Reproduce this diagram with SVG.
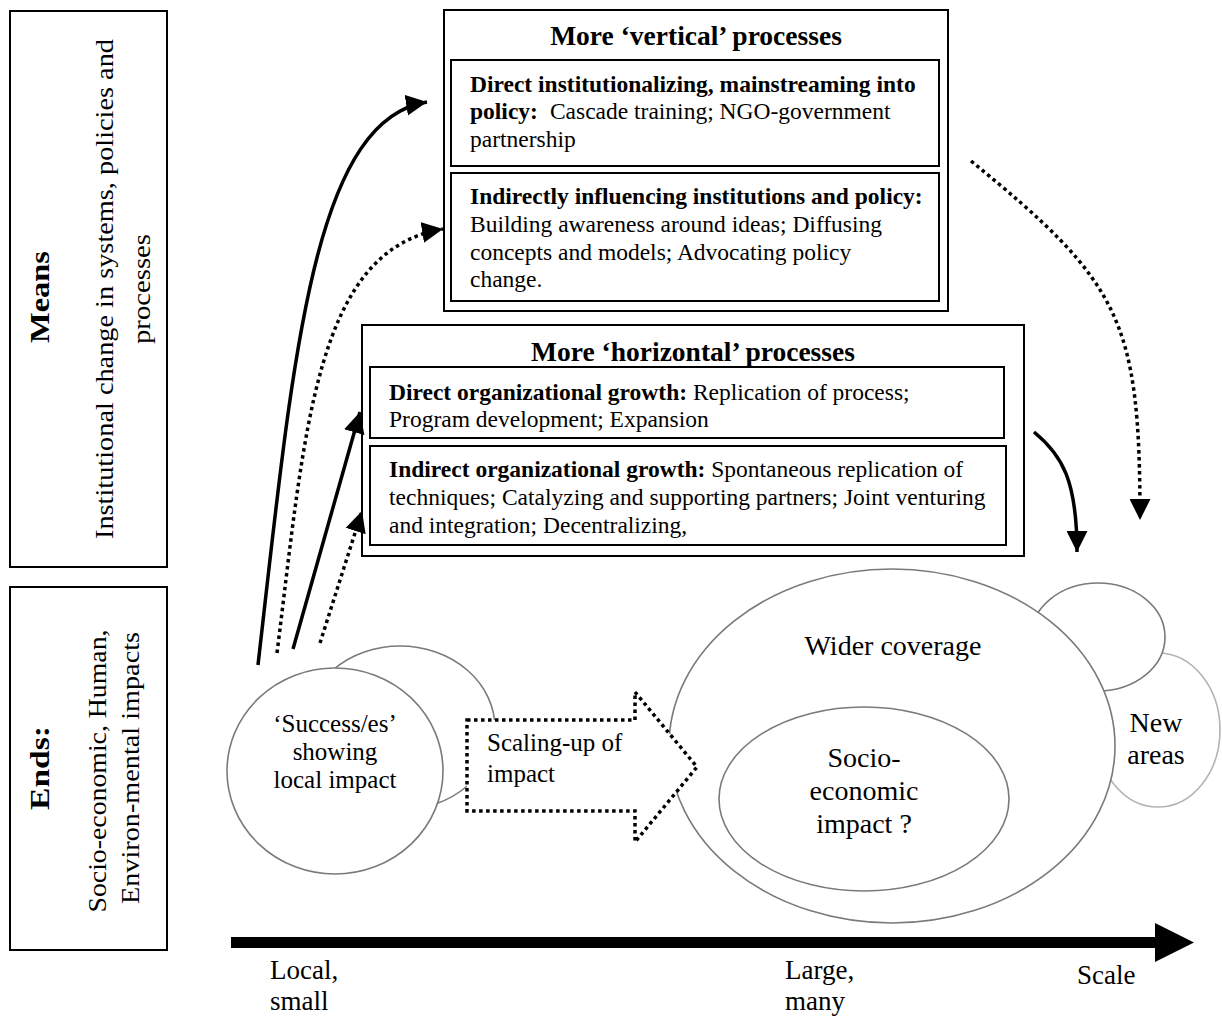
<svg xmlns="http://www.w3.org/2000/svg" width="1222" height="1017" viewBox="0 0 1222 1017">
  <style>
    text { font-family: "Liberation Serif", "Times New Roman", serif; fill: #000; }
    .frame { fill: #fff; stroke: #000; stroke-width: 2; }
    .inner { fill: none; stroke: #000; stroke-width: 2; }
    .head { font-size: 27.5px; font-weight: bold; text-anchor: middle; }
    .body { font-size: 23.5px; }
    .b { font-weight: bold; }
    .side { font-size: 26px; text-anchor: middle; }
    .lbl { font-size: 28px; text-anchor: middle; }
    .small { font-size: 25px; }
    .mid { text-anchor: middle; }
    .axis { font-size: 27px; }
    .bubble { fill: #fff; stroke: #7a7a7a; stroke-width: 1.6; }
    .light { stroke: #b4b4b4; }
    .solid { fill: none; stroke: #000; stroke-width: 3.5; }
    .dotted { fill: none; stroke: #000; stroke-width: 3.5; stroke-dasharray: 3.5 3.5; }
  </style>
  <defs>
    <marker id="head" markerUnits="userSpaceOnUse" viewBox="0 0 21 21" markerWidth="21" markerHeight="21" refX="21" refY="10.5" orient="auto">
      <path d="M0,0 L21,10.5 L0,21 z" fill="#000"/>
    </marker>
  </defs>

  <!-- Side panel: means -->
  <g id="means">
    <rect class="frame" x="10" y="11" width="157" height="556"/>
    <text class="side b" style="font-size:28px" transform="translate(49,297) rotate(-90)" textLength="92" lengthAdjust="spacingAndGlyphs">Means</text>
    <text class="side" transform="translate(113,289) rotate(-90)" textLength="500" lengthAdjust="spacingAndGlyphs">Institutional change in systems, policies and</text>
    <text class="side" transform="translate(150,289) rotate(-90)" textLength="110" lengthAdjust="spacingAndGlyphs">processes</text>
  </g>

  <!-- Side panel: ends -->
  <g id="ends">
    <rect class="frame" x="10" y="587" width="157" height="363"/>
    <text class="side b" style="font-size:28px" transform="translate(49,768) rotate(-90)" textLength="84" lengthAdjust="spacingAndGlyphs">Ends:</text>
    <text class="side" transform="translate(106,771) rotate(-90)" textLength="283" lengthAdjust="spacingAndGlyphs">Socio-economic, Human,</text>
    <text class="side" transform="translate(139,768) rotate(-90)" textLength="272" lengthAdjust="spacingAndGlyphs">Environ-mental impacts</text>
  </g>

  <!-- Vertical processes -->
  <g id="vertical">
    <rect class="frame" x="444" y="10" width="504" height="301"/>
    <text class="head" x="696" y="45">More ‘vertical’ processes</text>
    <rect class="inner" x="451" y="60" width="488" height="106"/>
    <text class="body" x="470" y="92"><tspan class="b">Direct institutionalizing, mainstreaming into</tspan></text>
    <text class="body" x="470" y="119"><tspan class="b">policy:</tspan><tspan dx="12">Cascade training; NGO-government</tspan></text>
    <text class="body" x="470" y="147">partnership</text>
    <rect class="inner" x="451" y="173" width="488" height="128"/>
    <text class="body" x="470" y="204"><tspan class="b">Indirectly influencing institutions and policy:</tspan></text>
    <text class="body" x="470" y="232">Building awareness around ideas; Diffusing</text>
    <text class="body" x="470" y="260">concepts and models; Advocating policy</text>
    <text class="body" x="470" y="287">change.</text>
  </g>

  <!-- Horizontal processes -->
  <g id="horizontal">
    <rect class="frame" x="362" y="325" width="662" height="231"/>
    <text class="head" x="693" y="361">More ‘horizontal’ processes</text>
    <rect class="inner" x="370" y="367" width="634" height="71"/>
    <text class="body" x="389" y="400"><tspan class="b">Direct organizational growth:</tspan> Replication of process;</text>
    <text class="body" x="389" y="427">Program development; Expansion</text>
    <rect class="inner" x="370" y="446" width="636" height="99"/>
    <text class="body" x="389" y="477"><tspan class="b">Indirect organizational growth:</tspan> Spontaneous replication of</text>
    <text class="body" x="389" y="505">techniques; Catalyzing and supporting partners; Joint venturing</text>
    <text class="body" x="389" y="533">and integration; Decentralizing,</text>
  </g>

  <!-- Local successes -->
  <g id="local">
    <ellipse class="bubble" cx="400" cy="728" rx="95" ry="82"/>
    <ellipse class="bubble" cx="335" cy="771" rx="108" ry="103"/>
    <text class="small mid" x="335" y="732">‘Success/es’</text>
    <text class="small mid" x="335" y="760">showing</text>
    <text class="small mid" x="335" y="788">local impact</text>
  </g>

  <!-- Wider coverage -->
  <g id="wider">
    <ellipse class="bubble light" cx="1158" cy="730" rx="62" ry="77"/>
    <ellipse class="bubble" cx="1098" cy="637" rx="67" ry="54"/>
    <ellipse class="bubble" cx="892" cy="746" rx="223" ry="177"/>
    <text class="lbl" x="893" y="655">Wider coverage</text>
    <text class="lbl" x="1156" y="732">New</text>
    <text class="lbl" x="1156" y="764">areas</text>
  </g>

  <!-- Socio-economic impact -->
  <g id="socio">
    <ellipse class="bubble" cx="864" cy="799" rx="145" ry="92"/>
    <text class="lbl" x="864" y="767">Socio-</text>
    <text class="lbl" x="864" y="800">economic</text>
    <text class="lbl" x="864" y="833">impact ?</text>
  </g>

  <!-- Scaling-up block arrow -->
  <g id="scaling">
    <polygon points="467,720 635,720 635,692 697,767 635,842 635,811 467,811" fill="#fff" stroke="#000" stroke-width="3.5" stroke-dasharray="3.5 3.5"/>
    <text class="small" x="487" y="751">Scaling-up of</text>
    <text class="small" x="487" y="782">impact</text>
  </g>

  <!-- Scale axis -->
  <g id="axis">
    <rect x="231" y="937" width="926" height="11" fill="#000"/>
    <polygon points="1155,923 1194,942.5 1155,962" fill="#000"/>
    <text class="axis" x="270" y="979">Local,</text>
    <text class="axis" x="270" y="1010">small</text>
    <text class="axis" x="785" y="979">Large,</text>
    <text class="axis" x="785" y="1010">many</text>
    <text class="axis" x="1077" y="984">Scale</text>
  </g>

  <!-- Connectors -->
  <g id="connectors">
    <path class="solid" d="M258,665 C293,360 312,120 427,102" marker-end="url(#head)"/>
    <path class="dotted" d="M277,653 C305,430 315,250 443,229" marker-end="url(#head)"/>
    <path class="solid" d="M293,649 L360,412" marker-end="url(#head)"/>
    <path class="dotted" d="M320,643 L362,511" marker-end="url(#head)"/>
    <path class="dotted" d="M971,161 C1121,283 1140,320 1140,520" marker-end="url(#head)"/>
    <path class="solid" d="M1034,432 C1062,455 1077,480 1077,552" marker-end="url(#head)"/>
  </g>
</svg>
